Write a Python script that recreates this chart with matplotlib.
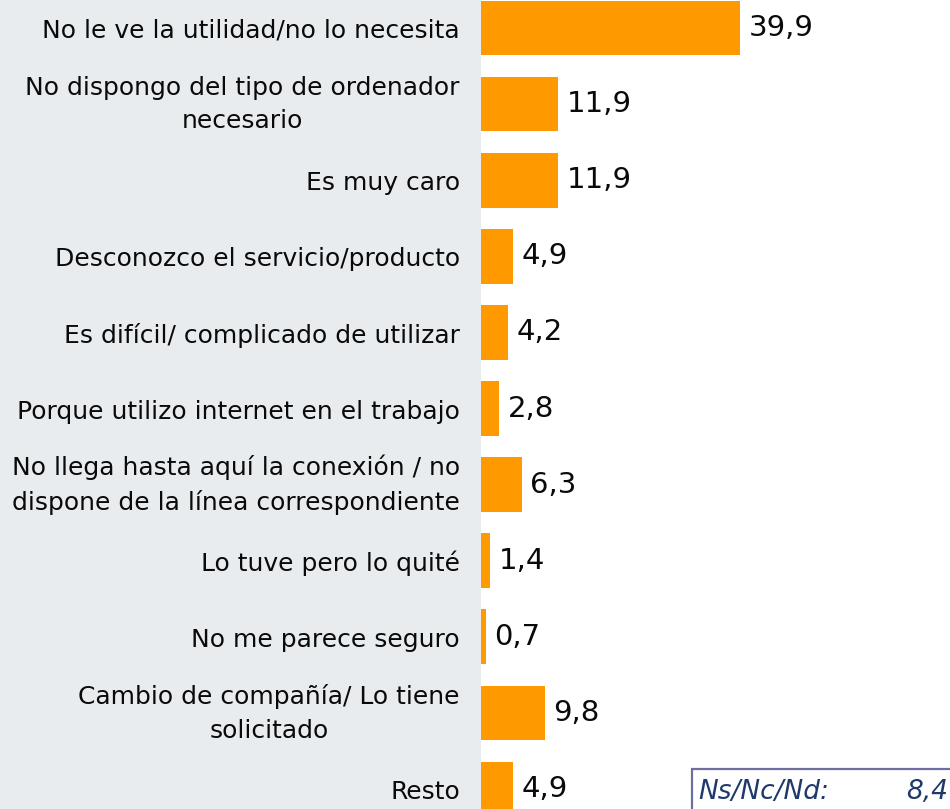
import matplotlib
matplotlib.use("Agg")
import matplotlib.pyplot as plt
from matplotlib.patches import Rectangle
from matplotlib.transforms import ScaledTranslation, blended_transform_factory

categories = [
    "No le ve la utilidad/no lo necesita",
    "No dispongo del tipo de ordenador\nnecesario",
    "Es muy caro",
    "Desconozco el servicio/producto",
    "Es difícil/ complicado de utilizar",
    "Porque utilizo internet en el trabajo",
    "No llega hasta aquí la conexión / no\ndispone de la línea correspondiente",
    "Lo tuve pero lo quité",
    "No me parece seguro",
    "Cambio de compañía/ Lo tiene\nsolicitado",
    "Resto",
]
values = [39.9, 11.9, 11.9, 4.9, 4.2, 2.8, 6.3, 1.4, 0.7, 9.8, 4.9]
nsnc_label = "Ns/Nc/Nd:"
nsnc_value = 8.4

W, H = 950, 809
fig = plt.figure(figsize=(W / 100, H / 100), dpi=100, facecolor="white")

# light grey panel behind category labels
fig.patches.append(Rectangle((0, 0), 481 / W, 1, transform=fig.transFigure,
                             facecolor="#E9ECEE", edgecolor="none", zorder=-5))

ax = fig.add_axes([481 / W, 0, 1 - 481 / W, 1])
ax.set_facecolor("none")

n = len(categories)
pos = list(range(n))
ax.barh(pos, values, height=0.72, color="#FF9900", edgecolor="none")

# y range so centers land at 28px + 76.1px*i
spacing = 76.1
top = -28 / spacing
bottom = (H - 28) / spacing
ax.set_ylim(bottom, top)
ax.set_xlim(0, (W - 481) / 6.49)

ax.set_yticks([])
ax.set_xticks([])
for s in ax.spines.values():
    s.set_visible(False)

# category labels: x in axes coords, y in data coords
blend = blended_transform_factory(ax.transAxes, ax.transData)
for p, lab in zip(pos, categories):
    dy = -0.5 / 100 if "\n" in lab else -3 / 100
    tr = blend + ScaledTranslation(-21 / 100, dy, fig.dpi_scale_trans)
    ax.text(0, p, lab, transform=tr, ha="right", va="center",
            multialignment="center", linespacing=1.5, fontsize=18,
            color="#0A0A0A", clip_on=False)

for p, v in zip(pos, values):
    ax.annotate(f"{v:.1f}".replace(".", ","), xy=(v, p), xytext=(6, 0),
                textcoords="offset points", va="center", ha="left",
                fontsize=21, color="#0A0A0A")

# Ns/Nc/Nd box
fig.patches.append(Rectangle((692 / W, -0.05), 0.5, 0.05 + 1 - 769 / H,
                             transform=fig.transFigure, facecolor="white",
                             edgecolor="#6E6EA0", linewidth=1.6, zorder=3))
fig.text(698 / W, 1 - 792 / H, nsnc_label, fontsize=19, style="italic",
         color="#1F3A6A", va="center", ha="left", zorder=4)
fig.text(948 / W, 1 - 792 / H, f"{nsnc_value:.1f}".replace(".", ","),
         fontsize=19, style="italic", color="#1F3A6A", va="center",
         ha="right", zorder=4)

fig.savefig("out.png", dpi=100, facecolor="white")
